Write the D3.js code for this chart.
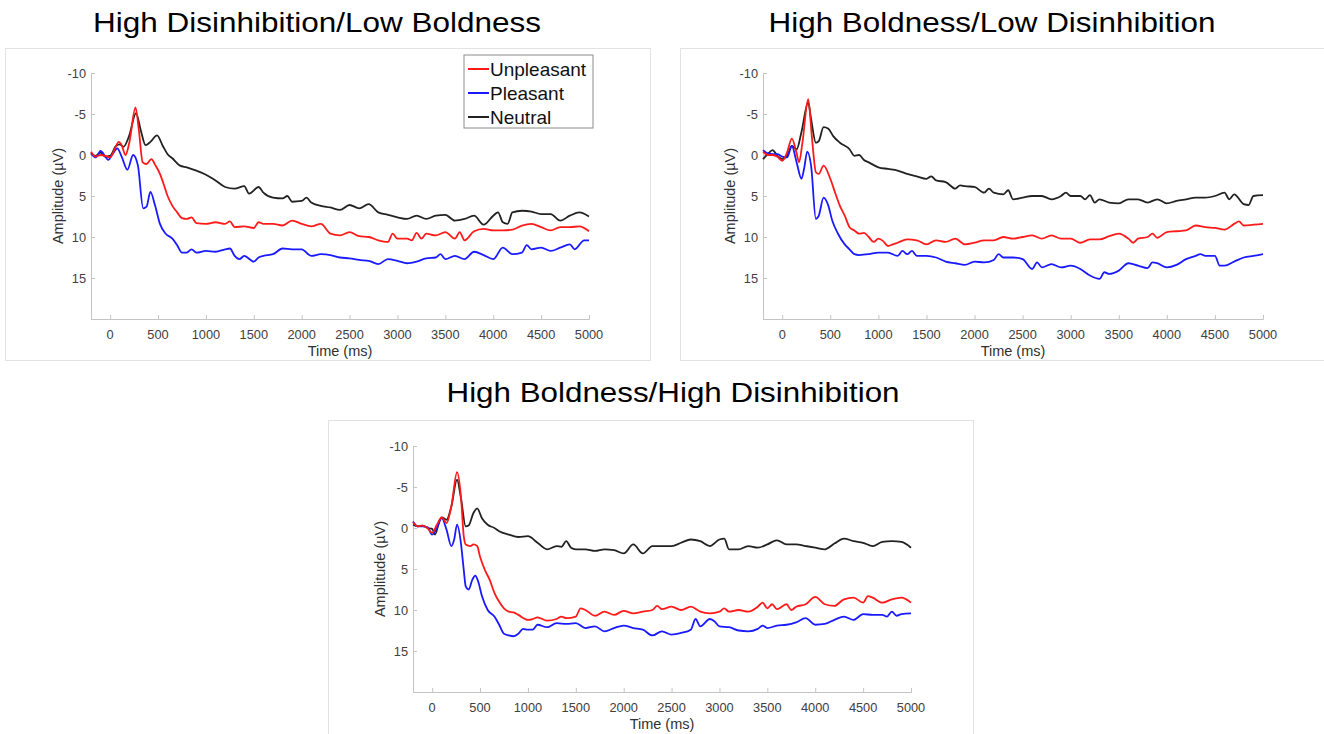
<!DOCTYPE html>
<html>
<head>
<meta charset="utf-8">
<script src="https://cdn.jsdelivr.net/npm/d3@7"></script>
<style>
  body { margin: 0; background: #fff; }
  text { font-family: "Liberation Sans", Arial, sans-serif; }
</style>
</head>
<body>
<script>
// ERP waveforms, [time ms, amplitude µV]
const seriesNames = ["Unpleasant", "Pleasant", "Neutral"];
const seriesColors = ["#ff1a1a", "#1a1aff", "#222222"];
const panelTitles = ["High Disinhibition/Low Boldness", "High Boldness/Low Disinhibition", "High Boldness/High Disinhibition"];
const xTicks = [0, 500, 1000, 1500, 2000, 2500, 3000, 3500, 4000, 4500, 5000];
const yTicks = [-10, -5, 0, 5, 10, 15];

const p1Unpleasant = [[-200,-0.4],[-150,0.2],[-100,0],[-50,0.1],[0,0.3],[50,-0.8],[90,-1.6],[120,-1.2],[160,0],[200,-1.5],[265,-5.8],[300,-3],[340,0.9],[380,1.1],[430,0.5],[470,1.2],[520,2.3],[560,3.6],[600,5],[650,6.2],[700,7],[750,7.7],[800,7.8],[850,7.6],[900,8.3],[1000,8.4],[1100,8.2],[1200,8.4],[1250,8.1],[1300,8.8],[1400,8.7],[1500,8.9],[1550,8.2],[1600,8.4],[1700,8.4],[1800,8.6],[1900,8],[2000,8.4],[2100,8.7],[2200,8.4],[2300,9.6],[2400,9.8],[2500,9.4],[2600,9.9],[2700,10],[2800,10.4],[2900,10.6],[2950,9.6],[3000,10.2],[3100,10.2],[3150,10.4],[3200,9.5],[3250,10.2],[3300,9.6],[3400,9.8],[3500,9.4],[3600,10.2],[3650,9.4],[3700,10.4],[3800,9.3],[3900,9.0],[4000,9.2],[4100,9.2],[4200,9.1],[4300,8.6],[4400,8.4],[4500,8.8],[4600,9.2],[4700,8.8],[4800,8.8],[4900,8.7],[5000,9.3]];
const p1Pleasant = [[-200,-0.2],[-150,0.3],[-100,-0.5],[-50,0.2],[-20,0.6],[30,-0.2],[75,-0.8],[120,0.2],[180,1.8],[240,0],[290,1.3],[345,6.5],[380,6.3],[420,4.5],[470,6.2],[520,8.4],[580,9.6],[650,10.2],[700,11],[750,11.9],[800,11.9],[850,11.5],[900,11.9],[1000,11.7],[1100,11.8],[1200,11.5],[1250,11.4],[1300,12.3],[1350,12.7],[1400,12.3],[1500,13],[1550,12.5],[1600,12.3],[1700,12.1],[1800,11.4],[1900,11.5],[2000,11.5],[2100,12.3],[2200,12.1],[2300,12.2],[2400,12.5],[2500,12.6],[2600,12.8],[2700,12.9],[2800,13.3],[2900,12.7],[3000,12.9],[3100,13.2],[3200,13],[3300,12.6],[3400,12.5],[3450,12.1],[3500,12.7],[3600,12.3],[3700,12.7],[3800,11.8],[3900,12.2],[4000,12.7],[4100,11.3],[4200,12.1],[4300,11.9],[4350,11],[4400,11.5],[4500,11.3],[4600,11.7],[4700,11.3],[4800,10.9],[4850,11.5],[4950,10.4],[5000,10.4]];
const p1Neutral = [[-200,-0.2],[-150,0.1],[-100,-0.3],[-50,0.2],[0,0.1],[60,-1.1],[100,-1.3],[140,-1],[200,-2.4],[270,-5.1],[320,-3],[370,-1.2],[420,-1.6],[490,-2.4],[550,-1.1],[600,-0.1],[650,0.4],[730,1.3],[800,1.5],[900,1.9],[1000,2.4],[1100,3.1],[1200,3.9],[1300,4.1],[1400,3.8],[1450,4.7],[1550,3.9],[1600,4.6],[1700,5.2],[1800,5.3],[1850,5],[1900,5.7],[2000,5.6],[2050,5.2],[2100,5.8],[2200,6.2],[2300,6.4],[2400,6.7],[2500,6.1],[2600,6.5],[2700,6],[2800,7],[2900,7.3],[3000,7.6],[3100,7.8],[3200,7.4],[3300,7.8],[3400,7.4],[3500,7.3],[3600,8],[3700,7.8],[3800,7.4],[3900,8.5],[4000,7.4],[4050,7],[4100,8.2],[4150,8.4],[4200,7],[4300,6.8],[4400,6.9],[4500,7.2],[4600,7.2],[4700,8],[4800,7.4],[4900,7],[5000,7.5]];

const p2Unpleasant = [[-200,-0.4],[-150,0],[-100,0],[-50,0.2],[0,0.7],[50,-0.3],[100,-2],[150,-0.2],[175,0.9],[210,-1.5],[270,-6.8],[310,-2],[350,2.1],[380,2.3],[430,1.3],[500,2.9],[550,4.6],[600,6.2],[650,7.4],[700,8.8],[750,9.2],[800,9.6],[850,9.5],[900,10],[950,10.6],[1000,10.2],[1050,10.5],[1100,11.1],[1150,10.9],[1200,10.7],[1300,10.3],[1400,10.4],[1500,10.9],[1600,10.4],[1700,10.6],[1800,10.2],[1900,10.9],[2000,10.7],[2100,10.4],[2200,10.4],[2300,10],[2400,10.2],[2500,10],[2600,9.8],[2700,10.2],[2800,9.8],[2900,10.2],[3000,10.2],[3100,10.7],[3200,10.3],[3300,10.3],[3400,9.9],[3500,9.6],[3600,10.2],[3650,10.7],[3700,10.2],[3800,10],[3850,9.6],[3900,10.1],[4000,9.4],[4100,9.3],[4200,9.2],[4300,8.6],[4400,8.8],[4500,8.9],[4600,9.1],[4700,8.4],[4750,8.1],[4800,8.6],[4900,8.5],[5000,8.4]];
const p2Pleasant = [[-200,-0.6],[-150,-0.2],[-100,-0.1],[-50,-0.1],[0,0.2],[50,0.3],[100,-1.1],[150,0.9],[200,2.9],[230,1.5],[260,-0.4],[300,1.3],[350,7.8],[380,7.4],[430,5.2],[480,6.2],[520,8],[580,9.6],[650,10.9],[700,11.5],[750,12.1],[800,12.2],[900,12.1],[1000,11.9],[1100,11.9],[1200,12.3],[1250,11.7],[1300,12.1],[1350,11.7],[1400,12.3],[1500,12.3],[1600,12.5],[1700,13],[1800,13.2],[1900,13.4],[2000,13],[2100,13.1],[2200,12.8],[2250,12.1],[2300,12.5],[2400,12.5],[2500,12.7],[2600,13.9],[2650,13.1],[2700,13.7],[2800,13.3],[2900,13.7],[3000,13.5],[3100,13.9],[3200,14.7],[3300,15.1],[3350,14.3],[3400,14.5],[3500,14.1],[3600,13.2],[3700,13.5],[3800,13.8],[3850,13.1],[3900,13.2],[4000,13.7],[4100,13.4],[4200,12.7],[4300,12.3],[4350,12.1],[4400,12.3],[4500,12.3],[4550,13.5],[4600,13.5],[4700,13],[4800,12.5],[4900,12.3],[5000,12.1]];
const p2Neutral = [[-200,0.5],[-150,-0.1],[-100,-0.6],[-50,0.1],[0,0.5],[50,0.1],[100,-1.1],[150,-0.7],[200,-2.8],[270,-6.4],[300,-4.4],[350,-1.5],[380,-1.7],[430,-3.4],[480,-3.2],[530,-2.3],[600,-1.5],[700,-0.7],[750,0.1],[800,0],[850,0.6],[900,0.9],[1000,1.5],[1100,1.7],[1200,1.9],[1300,2.3],[1400,2.6],[1500,2.9],[1550,2.6],[1600,3.1],[1700,3.3],[1800,4.1],[1850,3.7],[1900,3.8],[2000,3.9],[2100,4.6],[2150,4.1],[2200,4.6],[2300,4.8],[2350,4.3],[2400,5.4],[2500,5.2],[2600,5],[2700,5],[2800,5.4],[2900,5],[2950,4.6],[3000,5],[3100,5],[3150,5.4],[3200,4.9],[3250,5.8],[3300,5.4],[3400,5.8],[3500,5.9],[3600,5.4],[3700,5.4],[3800,5.8],[3900,5.4],[4000,5.9],[4100,5.6],[4200,5.4],[4300,5.2],[4400,5.2],[4500,5],[4600,4.6],[4650,5.4],[4700,4.8],[4800,6],[4850,6.1],[4900,5],[5000,4.9]];

const p3Unpleasant = [[-200,-0.7],[-150,-0.2],[-100,-0.3],[-50,0],[0,0.6],[50,-0.4],[100,-1.3],[150,-0.6],[200,-2.6],[260,-6.8],[300,-3.9],[330,1],[350,2],[400,2.2],[430,2],[470,2.2],[500,3.5],[550,5.1],[600,6.3],[650,7.9],[700,9],[750,9.8],[800,10.2],[850,10.3],[900,10.6],[1000,11.2],[1050,11.1],[1100,10.9],[1200,11.3],[1300,11.1],[1350,10.8],[1400,11],[1500,10.8],[1550,9.8],[1600,10],[1700,10.7],[1800,10.2],[1900,10.6],[2000,10.1],[2100,10.4],[2200,10.2],[2300,10],[2350,9.5],[2400,9.9],[2500,9.6],[2600,10],[2700,9.6],[2800,10.2],[2900,10.4],[3000,10.2],[3050,9.8],[3100,10.2],[3200,10],[3300,10.2],[3400,9.6],[3450,9.1],[3500,9.8],[3550,9.3],[3600,9.9],[3700,9.3],[3750,10],[3800,9.6],[3900,9.3],[4000,8.4],[4100,9.3],[4200,9.5],[4300,8.7],[4400,8.5],[4500,9.1],[4550,8.3],[4600,8.5],[4700,9.1],[4800,8.7],[4900,8.5],[5000,9.1]];
const p3Pleasant = [[-200,-0.8],[-150,-0.2],[-100,-0.2],[-50,-0.1],[0,0.8],[50,0],[100,-1.2],[150,0.2],[200,2.2],[230,1.4],[260,-0.4],[300,1.8],[330,5.1],[350,7.1],[380,7.5],[420,6.3],[450,5.8],[480,6.5],[520,8.3],[580,10],[650,10.8],[700,11.8],[750,12.9],[800,13.1],[850,13.2],[900,12.9],[950,12.3],[1000,12.4],[1050,12.4],[1100,11.8],[1200,12.1],[1300,11.6],[1400,11.7],[1500,11.6],[1600,12.2],[1700,12],[1800,12.6],[1900,12.2],[2000,11.9],[2100,12.2],[2200,12.4],[2300,13.1],[2400,12.6],[2500,13],[2600,12.8],[2700,12.4],[2750,11.1],[2800,12],[2900,11.1],[2950,11.4],[3000,12],[3100,12.1],[3200,12.5],[3300,12.6],[3400,12.3],[3450,11.9],[3500,12.2],[3600,11.9],[3700,11.8],[3800,11.5],[3900,11],[4000,11.8],[4100,11.7],[4200,11.2],[4300,10.8],[4400,11.2],[4500,10.5],[4600,10.6],[4700,10.6],[4750,10.8],[4800,10.2],[4850,10.7],[4900,10.5],[5000,10.4]];
const p3Neutral = [[-200,-0.4],[-150,-0.2],[-100,-0.3],[-50,0],[0,0.1],[30,0.8],[80,-1],[100,-1.3],[150,-1],[200,-2.6],[260,-5.9],[300,-3.7],[350,-0.2],[380,-0.3],[430,-1.8],[470,-2.4],[520,-1.2],[580,-0.4],[650,0],[700,0.4],[800,0.8],[900,1.1],[1000,1],[1100,1.8],[1200,2.6],[1300,2.2],[1350,2.3],[1400,1.6],[1450,2.4],[1500,2.6],[1600,2.6],[1700,2.8],[1800,2.6],[1900,2.7],[2000,3.1],[2100,2],[2200,3.1],[2300,2.2],[2400,2.2],[2500,2.2],[2600,1.8],[2700,1.4],[2800,1.6],[2900,2.2],[3000,1.4],[3050,1.3],[3100,2.6],[3200,2.6],[3300,2.2],[3400,2.4],[3500,2],[3600,1.5],[3700,2],[3800,2],[3900,2.2],[4000,2.4],[4100,2.6],[4200,1.9],[4300,1.3],[4400,1.6],[4500,1.8],[4600,2.2],[4700,1.7],[4800,1.6],[4900,1.7],[5000,2.4]];

const panelData = [
    [p1Unpleasant, p1Pleasant, p1Neutral],
    [p2Unpleasant, p2Pleasant, p2Neutral],
    [p3Unpleasant, p3Pleasant, p3Neutral]
];

// layout of the three panels (frame box + plot box), title width as in the figure
const panelLayout = [
    {frame: [5, 48, 645, 312], plot: [91, 73, 498, 246], titleX: 317, titleY: 32, titleW: 448, legend: true},
    {frame: [680, 48, 650, 312], plot: [763, 73, 500, 246], titleX: 992, titleY: 32, titleW: 447, legend: false},
    {frame: [328, 420, 645, 320], plot: [413, 446, 498, 246], titleX: 673, titleY: 402, titleW: 453, legend: false}
];

const width = 1324, height = 734;
const svg = d3.select("body").append("svg")
    .attr("width", width)
    .attr("height", height);

svg.append("rect").attr("width", width).attr("height", height).style("fill", "#fff");

function generateLegend(g, x, y){
    const legend = g.append("g").attr("transform", `translate(${x},${y})`);
    legend.append("rect")
        .attr("width", 129).attr("height", 73)
        .style("fill", "#fff")
        .style("stroke", "#8c8c8c")
        .style("stroke-width", 1);
    seriesNames.forEach((name, i) => {
        const ly = 14 + i * 24;
        legend.append("line")
            .attr("x1", 4).attr("x2", 25)
            .attr("y1", ly).attr("y2", ly)
            .style("stroke", seriesColors[i])
            .style("stroke-width", 2);
        legend.append("text")
            .attr("x", 26).attr("y", ly + 7)
            .style("font-size", "19px")
            .style("fill", "#111")
            .text(name);
    });
}

function generatePanel(svgSelection, layout, series, title){
    const [fx, fy, fw, fh] = layout.frame;
    const [px, py, pw, ph] = layout.plot;
    const g = svgSelection.append("g");

    g.append("rect")
        .attr("x", fx + 0.5).attr("y", fy + 0.5)
        .attr("width", fw).attr("height", fh)
        .style("fill", "none")
        .style("stroke", "#e2e2e2");

    g.append("text")
        .attr("x", layout.titleX - layout.titleW / 2).attr("y", layout.titleY)
        .attr("textLength", layout.titleW)
        .attr("lengthAdjust", "spacingAndGlyphs")
        .style("font-size", "28.5px")
        .style("fill", "#000")
        .text(title);

    const x = d3.scaleLinear().domain([-200, 5000]).range([px, px + pw]);
    const y = d3.scaleLinear().domain([-10, 20]).range([py, py + ph]);

    const xAxis = g.append("g")
        .attr("transform", `translate(0,${py + ph})`)
        .call(d3.axisTop(x).tickValues(xTicks).tickSize(4).tickFormat(""));
    const yAxis = g.append("g")
        .attr("transform", `translate(${px},0)`)
        .call(d3.axisRight(y).tickValues(yTicks).tickSize(4).tickFormat(""));
    [xAxis, yAxis].forEach(a => {
        a.select(".domain").style("stroke", "#c4c4c4");
        a.selectAll(".tick line").style("stroke", "#c4c4c4");
    });

    g.selectAll(".xlab")
        .data(xTicks)
        .enter().append("text")
        .attr("x", d => x(d))
        .attr("y", py + ph + 20)
        .attr("text-anchor", "middle")
        .style("font-size", "12.8px")
        .style("fill", "#404040")
        .text(d => d);
    g.selectAll(".ylab")
        .data(yTicks)
        .enter().append("text")
        .attr("x", px - 5)
        .attr("y", d => y(d) + 4.5)
        .attr("text-anchor", "end")
        .style("font-size", "12.8px")
        .style("fill", "#404040")
        .text(d => d);

    g.append("text")
        .attr("x", px + pw / 2).attr("y", py + ph + 37)
        .attr("text-anchor", "middle")
        .style("font-size", "14.5px")
        .style("fill", "#303030")
        .text("Time (ms)");
    g.append("text")
        .attr("transform", `translate(${px - 28},${py + ph / 2}) rotate(-90)`)
        .attr("text-anchor", "middle")
        .style("font-size", "14.5px")
        .style("fill", "#303030")
        .text("Amplitude (µV)");

    const line = d3.line()
        .x(d => x(d[0]))
        .y(d => y(d[1]))
        .curve(d3.curveMonotoneX);

    // neutral drawn first, pleasant, then unpleasant on top
    [2, 1, 0].forEach(i => {
        g.append("path")
            .datum(series[i])
            .attr("d", line)
            .style("fill", "none")
            .style("stroke", seriesColors[i])
            .style("stroke-width", 1.8)
            .style("stroke-linejoin", "round");
    });

    if(layout.legend){
        generateLegend(g, 464, 55);
    }
    return g;
}

panelLayout.forEach((layout, i) => generatePanel(svg, layout, panelData[i], panelTitles[i]));
</script>
</body>
</html>
